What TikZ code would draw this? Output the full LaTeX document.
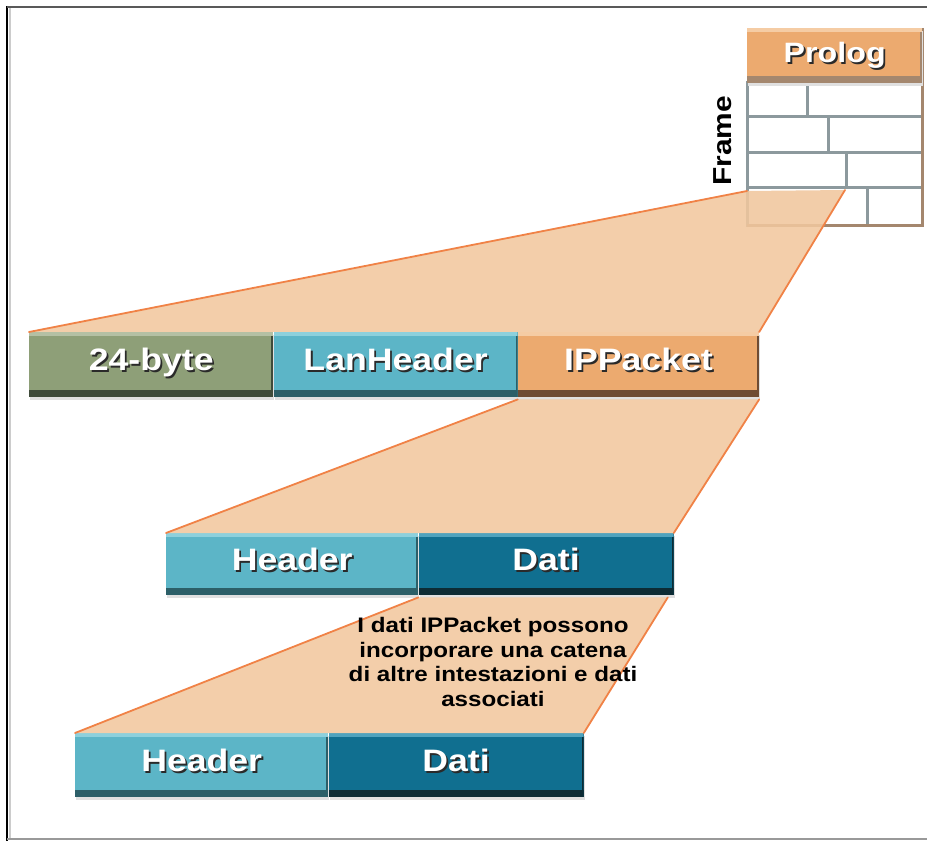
\documentclass[tikz,border=0pt]{standalone}
\usepackage{fontspec}
\setmainfont{Liberation Sans}
\newfontfamily\widesans[FakeStretch=1.15]{Liberation Sans}
\usetikzlibrary{positioning}
\definecolor{cgreen}{HTML}{8E9F78}
\definecolor{cgreendk}{HTML}{3F4B3A}
\definecolor{cgreenlt}{HTML}{B4C0A4}
\definecolor{cteal}{HTML}{5CB5C7}
\definecolor{ctealdk}{HTML}{2C5F68}
\definecolor{cteallt}{HTML}{8DD0DC}
\definecolor{corange}{HTML}{ECAA6F}
\definecolor{corangedk}{HTML}{6E4C34}
\definecolor{corangelt}{HTML}{F5CCA4}
\definecolor{cnavy}{HTML}{106F90}
\definecolor{cnavydk}{HTML}{0D2C35}
\definecolor{cnavylt}{HTML}{4FA3BE}
\definecolor{funnelc}{HTML}{F1C79E}
\definecolor{rimc}{HTML}{F08246}
\definecolor{brickc}{HTML}{8C999D}
\definecolor{brickrim}{HTML}{A4876E}
\definecolor{shadowc}{HTML}{2A2A2A}
\newcommand\shd[1]{\rlap{\kern1.8pt\raisebox{-2.2pt}{\color{shadowc}#1}}#1}
\tikzset{
  cell/.style n args={3}{anchor=north west, inner sep=0pt, minimum height=65pt,
    text=white, font=\widesans\bfseries\fontsize{31}{31}\selectfont,
    text height=22pt, text depth=10pt, fill=#1,
    preaction={fill=black!12, transform canvas={xshift=1pt, yshift=-3pt}},
    path picture={
      \fill[#2] (path picture bounding box.south west) rectangle ([yshift=7pt]path picture bounding box.south east);
      \fill[#2] ([xshift=-2pt]path picture bounding box.north east) rectangle (path picture bounding box.south east);
      \fill[#3] (path picture bounding box.north west) rectangle ([yshift=-4pt]path picture bounding box.north east);
    }},
  brick/.style={draw=brickc, line width=3pt},
  framerim/.style={draw=brickrim, line width=3pt},
  funnelfill/.style={fill=funnelc, fill opacity=0.88},
  rimline/.style={draw=rimc, line width=1.8pt, line cap=round},
  lab/.style={text=black, font=\widesans\bfseries\fontsize{26}{26}\selectfont, inner sep=0pt},
  note/.style={text=black, font=\widesans\bfseries\fontsize{21}{24.5}\selectfont, align=center, inner sep=0pt},
  edgeblack/.style={draw=black, line width=2.5pt},
  edgegray/.style={draw=black!40, line width=2pt},
}
\begin{document}
\begin{tikzpicture}[x=1pt, y=-1pt]
\useasboundingbox (0,0) rectangle (927,842);

\draw[edgeblack] (7,6) -- (7,841);
\draw[draw=black!20, line width=2pt] (10,8) -- (10,838);
\draw[draw=black!65, line width=1.2pt] (7,7) -- (927,7);
\draw[edgegray] (7,839) -- (927,839);

\foreach \y/\h/\d in {83/34/807,117/36/828,153/35/846,188/38/867}{
  \fill[white] (747,\y) rectangle (922,\y+\h);
  \draw[brick] (747,\y) rectangle (922,\y+\h);
  \draw[brick] (\d,\y) -- (\d,\y+\h);
}
\draw[framerim] (922,28) -- (922,226) -- (747,226);
\node[cell={corange}{brickrim}{corangelt}, minimum width=175pt, minimum height=55pt, preaction={},
  font=\widesans\bfseries\fontsize{28}{28}\selectfont, text height=20pt, text depth=6pt] (prolog) at (747,28) {\shd{Prolog}};
\node[lab, rotate=90] (framelab) at (723,141) {Frame};

\node[cell={cgreen}{cgreendk}{cgreenlt}, minimum width=244pt] (byte24) at (29,332) {\shd{24-byte}\hspace{18pt}};
\node[cell={cteal}{ctealdk}{cteallt}, minimum width=244pt, right=0pt of byte24] (lanheader) {\shd{LanHeader}};
\node[cell={corange}{corangedk}{corangelt}, minimum width=241pt, right=0pt of lanheader] (ippacket) {\shd{IPPacket}\hspace{8pt}};

\node[cell={cteal}{ctealdk}{cteallt}, minimum width=252pt, minimum height=62pt] (header1) at (166,533) {\shd{Header}\hspace{8pt}};
\node[cell={cnavy}{cnavydk}{cnavylt}, minimum width=255pt, minimum height=62pt, right=0pt of header1] (dati1) {\shd{Dati}};

\node[cell={cteal}{ctealdk}{cteallt}, minimum width=253pt, minimum height=64pt] (header2) at (75,733) {\shd{Header}\hspace{18pt}};
\node[cell={cnavy}{cnavydk}{cnavylt}, minimum width=255pt, minimum height=64pt, right=0pt of header2] (dati2) {\shd{Dati}};

\coordinate (FL) at (747,191);
\coordinate (FR) at (845,190);
\fill[funnelfill] (FL) -- (FR) -- (ippacket.north east) -- (byte24.north west) -- cycle;
\draw[rimline] (FL) -- (byte24.north west);
\draw[rimline] (FR) -- (ippacket.north east);

\fill[funnelfill] ([yshift=-2pt]ippacket.south west) -- ([yshift=-2pt]ippacket.south east) -- (dati1.north east) -- (header1.north west) -- cycle;
\draw[rimline] ([yshift=-2pt]ippacket.south west) -- (header1.north west);
\draw[rimline] ([yshift=-2pt]ippacket.south east) -- (dati1.north east);

\fill[funnelfill] ([yshift=-2pt]dati1.south west) -- ([xshift=-6pt,yshift=-2pt]dati1.south east) -- (dati2.north east) -- (header2.north west) -- cycle;
\draw[rimline] ([yshift=-2pt]dati1.south west) -- (header2.north west);
\draw[rimline] ([xshift=-6pt,yshift=-2pt]dati1.south east) -- (dati2.north east);

\node[note] (note) at (493,662) {I dati IPPacket possono\\incorporare una catena\\di altre intestazioni e dati\\associati};
\end{tikzpicture}
\end{document}
